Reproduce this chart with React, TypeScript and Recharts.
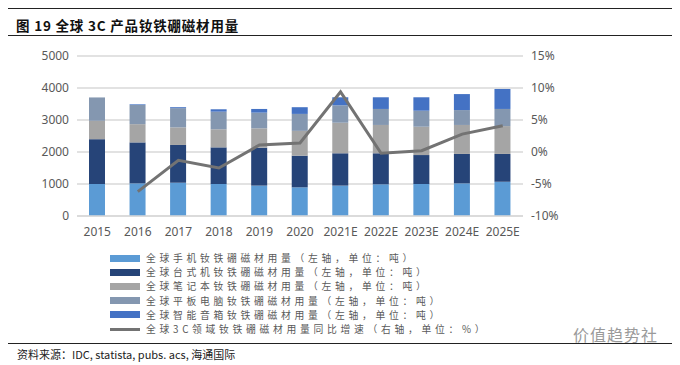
import { Bar, CartesianGrid, ComposedChart, Line, XAxis, YAxis } from "recharts";

const years = ["2015", "2016", "2017", "2018", "2019", "2020", "2021E", "2022E", "2023E", "2024E", "2025E"];
// tonnes, left axis
const phone = [1000, 1020, 1040, 1000, 950, 895, 950, 990, 1000, 1020, 1070];
const desktop = [1400, 1280, 1180, 1145, 1185, 990, 1010, 970, 905, 920, 870];
const laptop = [575, 570, 550, 565, 605, 775, 955, 885, 885, 905, 870];
const tablet = [730, 600, 600, 550, 490, 530, 545, 500, 500, 465, 535];
const speaker = [0, 20, 30, 75, 115, 210, 250, 365, 420, 500, 625];
// YoY growth %, right axis
const growth = [null, -6.2, -1.3, -2.5, 1.1, 1.4, 9.4, -0.2, 0.2, 2.8, 4.1];

const leftTicks = [0, 1000, 2000, 3000, 4000, 5000];
const rightTicks = [-10, -5, 0, 5, 10, 15];

const series = [
  { key: "phone", name: "全球手机钕铁硼磁材用量（左轴，单位：吨）", color: "#5b9bd5" },
  { key: "desktop", name: "全球台式机钕铁硼磁材用量（左轴，单位：吨）", color: "#264478" },
  { key: "laptop", name: "全球笔记本钕铁硼磁材用量（左轴，单位：吨）", color: "#a5a5a5" },
  { key: "tablet", name: "全球平板电脑钕铁硼磁材用量（左轴，单位：吨）", color: "#8497b0" },
  { key: "speaker", name: "全球智能音箱钕铁硼磁材用量（左轴，单位：吨）", color: "#4472c4" },
];
const lineName = "全球3C领域钕铁硼磁材用量同比增速（右轴，单位：%）";
const lineColor = "#737373";

const data = years.map((year, i) => ({
  year,
  phone: phone[i],
  desktop: desktop[i],
  laptop: laptop[i],
  tablet: tablet[i],
  speaker: speaker[i],
  growth: growth[i],
}));

const tickStyle = { fill: "#595959", fontSize: 12, fontFamily: "'Noto Sans', sans-serif" };
const rowH = 14.2;
const legendText = {
  fontSize: 9.8,
  color: "#595959",
  letterSpacing: 3.7,
  lineHeight: `${rowH}px`,
  whiteSpace: "nowrap" as const,
};

export default function App() {
  return (
    <div
      style={{
        position: "absolute",
        left: 0,
        top: 0,
        width: 680,
        height: 365,
        background: "#fff",
        fontFamily: "'Noto Sans CJK SC', sans-serif",
        overflow: "hidden",
      }}
    >
      <div style={{ position: "absolute", left: 8, right: 8, top: 8, borderTop: "1.5px solid #222" }} />
      <div
        style={{
          position: "absolute",
          left: 16,
          top: 15,
          fontSize: 13.5,
          fontWeight: 700,
          color: "#111",
          letterSpacing: 0.8,
        }}
      >
        图 19 全球 3C 产品钕铁硼磁材用量
      </div>
      <div style={{ position: "absolute", left: 8, right: 8, top: 35, borderTop: "1px solid #222" }} />

      <div style={{ position: "absolute", left: 0, top: 0 }}>
        <ComposedChart
          width={680}
          height={250}
          data={data}
          margin={{ top: 56, right: 97, bottom: 4, left: 0 }}
          barSize={16}
        >
          <CartesianGrid stroke="#d9d9d9" strokeWidth={1.5} vertical={false} yAxisId="left" />
          <XAxis
            dataKey="year"
            tick={tickStyle}
            tickLine={false}
            tickMargin={5}
            axisLine={{ stroke: "#d9d9d9", strokeWidth: 1.5 }}
            height={30}
            interval={0}
          />
          <YAxis
            yAxisId="left"
            width={77}
            domain={[0, 5000]}
            ticks={leftTicks}
            tick={tickStyle}
            tickLine={false}
            axisLine={false}
          />
          <YAxis
            yAxisId="right"
            orientation="right"
            width={60}
            domain={[-10, 15]}
            ticks={rightTicks}
            tickFormatter={(v) => `${v}%`}
            tick={{ ...tickStyle, textAnchor: "start" }}
            tickLine={false}
            axisLine={false}
          />
          {series.map((s) => (
            <Bar
              key={s.key}
              yAxisId="left"
              dataKey={s.key}
              stackId="a"
              fill={s.color}
              isAnimationActive={false}
            />
          ))}
          <Line
            yAxisId="right"
            dataKey="growth"
            type="linear"
            stroke={lineColor}
            strokeWidth={3}
            dot={false}
            isAnimationActive={false}
          />
        </ComposedChart>
      </div>

      <div style={{ position: "absolute", left: 110, top: 251 }}>
        {series.map((s) => (
          <div key={s.key} style={{ display: "flex", alignItems: "center", height: rowH }}>
            <div style={{ width: 30, height: 7, background: s.color, marginRight: 6 }} />
            <div style={legendText}>{s.name}</div>
          </div>
        ))}
        <div style={{ display: "flex", alignItems: "center", height: rowH }}>
          <div style={{ width: 30, height: 3, background: lineColor, marginRight: 6 }} />
          <div style={legendText}>{lineName}</div>
        </div>
      </div>

      <div
        style={{
          position: "absolute",
          left: 573,
          top: 322,
          fontSize: 16,
          color: "#9a9a9a",
          letterSpacing: 1,
        }}
      >
        价值趋势社
      </div>
      <div style={{ position: "absolute", left: 8, right: 8, top: 343, borderTop: "1px solid #222" }} />
      <div style={{ position: "absolute", left: 17, top: 346, fontSize: 11, color: "#222" }}>
        资料来源：IDC, statista, pubs. acs, 海通国际
      </div>
    </div>
  );
}
